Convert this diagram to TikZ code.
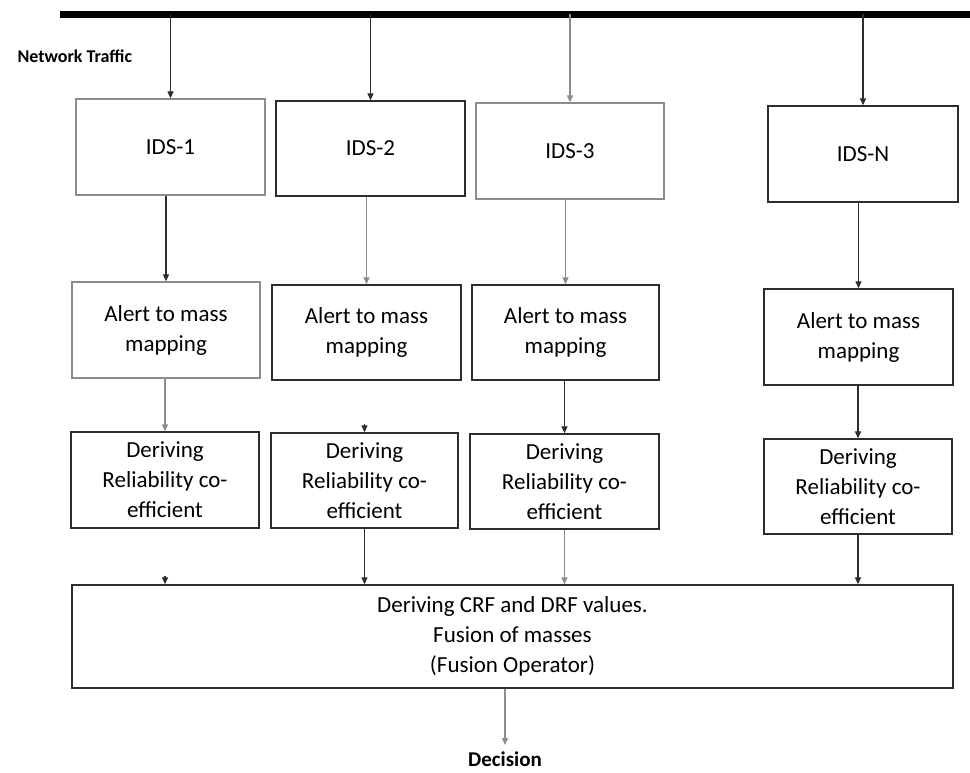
\documentclass[tikz,border=0pt]{standalone}
\usepackage{fontspec}
\setmainfont{Carlito}
\usetikzlibrary{arrows.meta}
\definecolor{grau}{RGB}{140,140,140}
\definecolor{dunkel}{RGB}{45,45,45}

\tikzset{
  box/.style={draw=dunkel,line width=1.3pt,minimum width=188pt,minimum height=95pt,align=center,inner sep=0pt,font=\fontsize{23}{30}\selectfont},
  boxhell/.style={box,draw=grau},
  pfeil/.style={-{Triangle[length=7pt,width=6pt]},line width=1.2pt,draw=dunkel},
  pfeilhell/.style={pfeil,draw=grau},
}

\begin{document}
\begin{tikzpicture}[x=1pt,y=-1pt]
\useasboundingbox (0,0) rectangle (970,773);
%
% bus: 
\coordinate (busL) at (60,14.5);
\coordinate (busR) at (970,14.5);
\draw[line width=7pt,black] (busL) -- (busR);

\node[anchor=west,font=\fontsize{18}{20}\selectfont\bfseries] (traffic) at (14,56) {Network Traffic};
%
% row: IDS
\node[boxhell,minimum width=189pt,minimum height=96pt] (ids1) at (170.5,147) {IDS-1};
\node[box,minimum width=189pt] (ids2) at (370.5,148.5) {IDS-2};
\node[boxhell,minimum height=96pt] (ids3) at (570,151) {IDS-3};
\node[box,minimum width=190pt,minimum height=96pt] (idsN) at (863,154) {IDS-N};

\draw[pfeil] (ids1.north |- busL) -- (ids1.north);
\draw[pfeil] (ids2.north |- busL) -- (ids2.north);
\draw[pfeilhell] (ids3.north |- busL) -- (ids3.north);
\draw[pfeil] (idsN.north |- busL) -- (idsN.north);
%
% row: alert to mass
\node[boxhell,minimum height=96pt] (alert1) at (166,330) {Alert to mass\\mapping};
\node[box,minimum width=189pt] (alert2) at (366.5,332.5) {Alert to mass\\mapping};
\node[box,minimum width=187pt] (alert3) at (565.5,332.5) {Alert to mass\\mapping};
\node[box,minimum width=189pt,minimum height=96pt] (alertN) at (858.5,337) {Alert to mass\\mapping};

\draw[pfeil] (ids1.south -| alert1.north) -- (alert1.north);
\draw[pfeilhell] (ids2.south -| alert2.north) -- (alert2.north);
\draw[pfeilhell] (ids3.south -| alert3.north) -- (alert3.north);
\draw[pfeil] (idsN.south -| alertN.north) -- (alertN.north);
%
% row: reliability
\node[box,minimum height=96pt] (der1) at (165,480) {Deriving\\Reliability co-\\efficient};
\node[box,minimum width=187pt] (der2) at (364.5,480.5) {Deriving\\Reliability co-\\efficient};
\node[box,minimum width=189pt] (der3) at (564.5,481.5) {Deriving\\Reliability co-\\efficient};
\node[box] (derN) at (858,486.5) {Deriving\\Reliability co-\\efficient};

\draw[pfeilhell] (alert1.south -| der1.north) -- (der1.north);
\draw[pfeil] ([yshift=8pt]der2.north) -- (der2.north);
\draw[pfeil] (alert3.south -| der3.north) -- (der3.north);
\draw[pfeil] (alertN.south -| derN.north) -- (derN.north);
%
% fusion
\node[box,minimum width=881pt,minimum height=103pt] (fusion) at (512.5,636.5) {Deriving CRF and DRF values.\\Fusion of masses\\(Fusion Operator)};

\draw[pfeil] ([yshift=8pt]fusion.north -| der1.south) -- (fusion.north -| der1.south);
\draw[pfeil] (der2.south) -- (fusion.north -| der2.south);
\draw[pfeilhell] (der3.south) -- (fusion.north -| der3.south);
\draw[pfeil] (derN.south) -- (fusion.north -| derN.south);
%
% decision
\node[font=\fontsize{21}{24}\selectfont\bfseries] (decision) at (505,759) {Decision};
\draw[pfeilhell,shorten >=3pt] (fusion.south -| decision.north) -- (decision.north);

\end{tikzpicture}
\end{document}
